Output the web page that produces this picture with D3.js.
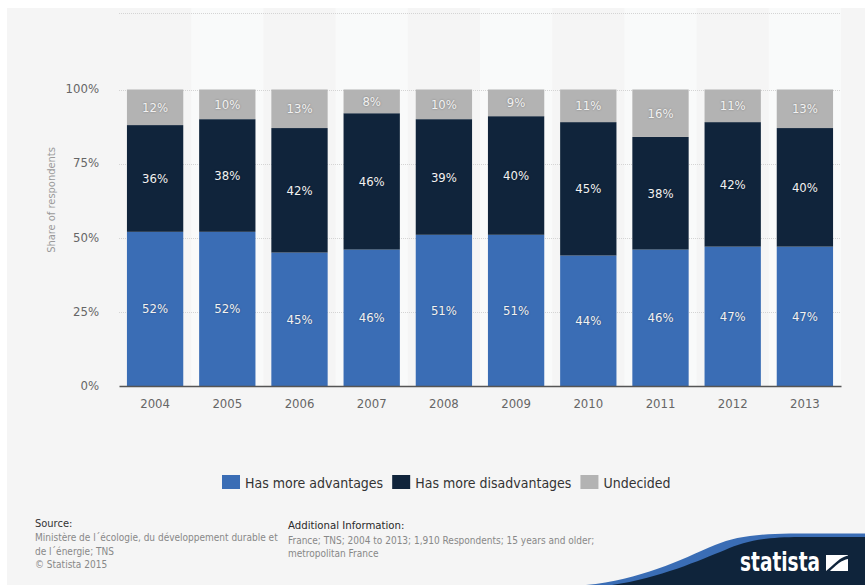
<!DOCTYPE html>
<html>
<head>
<meta charset="utf-8">
<script src="https://cdn.jsdelivr.net/npm/d3@7"></script>
<style>
  html, body { margin: 0; padding: 0; background: #ffffff; }
  svg { display: block; }
  text { font-family: "DejaVu Sans Condensed", "DejaVu Sans", sans-serif; font-stretch: condensed; }
  .val { text-shadow: 0 0 2px rgba(0,0,0,0.35); }
</style>
</head>
<body>
<svg id="chart" width="865" height="585"></svg>
<script>
// Survey years and the share of respondents per answer (percent)
const years = ["2004", "2005", "2006", "2007", "2008", "2009", "2010", "2011", "2012", "2013"];
const advantages = [52, 52, 45, 46, 51, 51, 44, 46, 47, 47];
const disadvantages = [36, 38, 42, 46, 39, 40, 45, 38, 42, 40];
const undecided = [12, 10, 13, 8, 10, 9, 11, 16, 11, 13];
const seriesNames = ["Has more advantages", "Has more disadvantages", "Undecided"];
const seriesColors = ["#3a6db5", "#10243b", "#b3b3b3"];
const yTicks = [0, 25, 50, 75, 100];

const svg = d3.select("#chart");

// Page panel
svg.append("rect").attr("x", 7).attr("y", 8).attr("width", 858).attr("height", 577).attr("fill", "#f5f5f5");

const left = 119, right = 841, bottom = 386, plotTop = 8;

const xCol = d3.scaleBand().domain(years).range([left, right]).padding(0);
const xBar = d3.scaleBand().domain(years).range([left, right]).paddingInner(0.22).paddingOuter(0.11);
const y = d3.scaleLinear().domain([0, 100]).range([bottom, 89.5]);

// Alternating column shading
svg.append("g").selectAll("rect").data(years.filter((d, i) => i % 2 === 1)).join("rect")
  .attr("x", d => xCol(d)).attr("y", plotTop)
  .attr("width", xCol.bandwidth()).attr("height", bottom - plotTop)
  .attr("fill", "#f9fafa");

// Dotted gridlines
const grid = svg.append("g");
grid.selectAll("line").data(yTicks.slice(1)).join("line")
  .attr("x1", left).attr("x2", right)
  .attr("y1", d => Math.round(y(d)) + 0.5).attr("y2", d => Math.round(y(d)) + 0.5)
  .attr("stroke", "#d4d4d4").attr("stroke-dasharray", "1,1");
grid.append("line").attr("x1", left).attr("x2", right).attr("y1", 13.5).attr("y2", 13.5)
  .attr("stroke", "#d4d4d4").attr("stroke-dasharray", "1,1");

// Stacked bars
const table = years.map((yr, i) => ({ year: yr, a: advantages[i], d: disadvantages[i], u: undecided[i] }));
const stacked = d3.stack().keys(["a", "d", "u"])(table);

const layers = svg.append("g").selectAll("g").data(stacked).join("g")
  .attr("fill", (s, i) => seriesColors[i]);
layers.selectAll("rect").data(s => s).join("rect")
  .attr("x", d => xBar(d.data.year))
  .attr("width", xBar.bandwidth())
  .attr("y", d => y(d[1]))
  .attr("height", d => y(d[0]) - y(d[1]));

// Value labels centred in each segment
const labels = svg.append("g");
stacked.forEach(s => {
  labels.selectAll(null).data(s).join("text")
    .attr("class", "val")
    .attr("x", d => xBar(d.data.year) + xBar.bandwidth() / 2)
    .attr("y", d => (y(d[0]) + y(d[1])) / 2)
    .attr("dy", "0.35em")
    .attr("text-anchor", "middle")
    .attr("font-size", 13)
    .attr("fill", "#f2f2f2")
    .text(d => (d[1] - d[0]) + "%");
});

// Axes
const xAxis = svg.append("g").attr("transform", `translate(0,${bottom})`)
  .call(d3.axisBottom(xCol).tickSize(0).tickPadding(13));
xAxis.select(".domain").attr("stroke", "#555").attr("stroke-width", 1.5);
xAxis.selectAll("text").attr("font-size", 13).attr("fill", "#666")
  .style("font-family", "'DejaVu Sans Condensed', 'DejaVu Sans', sans-serif");

const yAxis = svg.append("g").attr("transform", `translate(${left},0)`)
  .call(d3.axisLeft(y).tickValues(yTicks).tickSize(0).tickPadding(20).tickFormat(d => d + "%"));
yAxis.select(".domain").remove();
yAxis.selectAll("text").attr("font-size", 13).attr("fill", "#666").attr("dy", "0.25em")
  .style("font-family", "'DejaVu Sans Condensed', 'DejaVu Sans', sans-serif");

svg.append("text")
  .attr("transform", "translate(55,200) rotate(-90)")
  .attr("text-anchor", "middle").attr("font-size", 11).attr("fill", "#9a9a9a")
  .text("Share of respondents");

// Legend
const legend = svg.append("g");
let lx = 222;
seriesNames.forEach((name, i) => {
  legend.append("rect").attr("x", lx).attr("y", 475).attr("width", 18).attr("height", 14).attr("fill", seriesColors[i]);
  const t = legend.append("text").attr("x", lx + 23).attr("y", 488).attr("font-size", 14).attr("fill", "#333").text(name);
  lx += 23 + t.node().getComputedTextLength() + 9;
});

// Footer
const foot = svg.append("g");
foot.append("text").attr("x", 35).attr("y", 527).attr("font-size", 11).attr("fill", "#333").text("Source:");
["Ministère de l´écologie, du développement durable et", "de l´énergie; TNS", "© Statista 2015"].forEach((s, i) => {
  foot.append("text").attr("x", 35).attr("y", 541 + i * 13.5).attr("font-size", 10).attr("fill", "#888").text(s);
});
foot.append("text").attr("x", 288).attr("y", 529).attr("font-size", 11.3).attr("fill", "#2a2a2a").text("Additional Information:");
["France; TNS; 2004 to 2013; 1,910 Respondents; 15 years and older;", "metropolitan France"].forEach((s, i) => {
  foot.append("text").attr("x", 288).attr("y", 543.5 + i * 13.3).attr("font-size", 10).attr("fill", "#888").text(s);
});

// Brand corner
const brand = svg.append("g");
brand.append("path").attr("fill", "#3a6db5")
  .attr("d", "M586,585 C640,580 680,560 715,545 C735,537 755,534 790,533.5 L865,533.5 L865,585 Z");
brand.append("path").attr("fill", "#0f243b")
  .attr("d", "M612,585 C660,578 700,560 725,550 C745,541 765,537 800,537 L865,537 L865,585 Z");
brand.append("text").attr("x", 740).attr("y", 571).attr("font-size", 27).attr("font-weight", "bold")
  .attr("fill", "#ffffff").attr("textLength", 80).attr("lengthAdjust", "spacingAndGlyphs").text("statista");
brand.append("rect").attr("x", 826).attr("y", 555).attr("width", 22).attr("height", 16).attr("fill", "#ffffff");
brand.append("path").attr("fill", "#0f243b")
  .attr("d", "M826,571 C832,566 836,562 840,559 C843,557 846,556 848,555.5 L848,559 C845,559.5 842,561 839,563 C835,566 832,569 830,571 Z");
</script>
</body>
</html>
